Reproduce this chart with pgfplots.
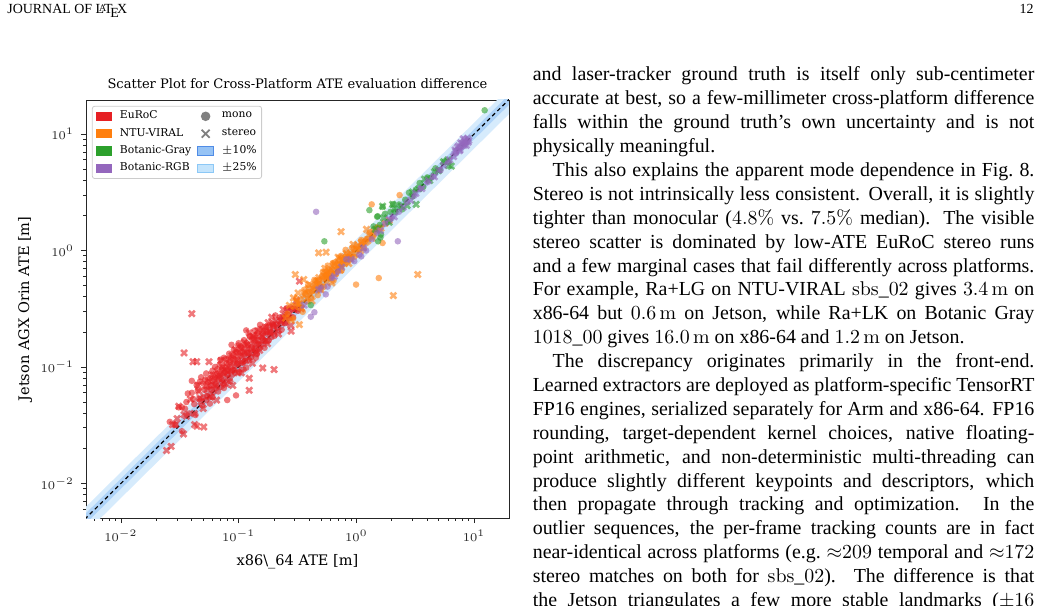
\documentclass[border=0pt]{standalone}
\usepackage[no-math]{fontspec}
\setmainfont{Liberation Serif}
\newfontfamily\figfont{DejaVu Serif}
\usepackage{pgfplots}
\usepackage{pgfplotstable}
\pgfplotsset{compat=1.18}

\definecolor{euroc}{RGB}{230,32,36}
\definecolor{ntu}{RGB}{255,127,14}
\definecolor{bgray}{RGB}{44,160,44}
\definecolor{brgb}{RGB}{148,103,189}
\definecolor{bandA}{RGB}{214,235,252}
\definecolor{bandB}{RGB}{174,211,248}
\definecolor{legA}{RGB}{196,228,252}
\definecolor{legAd}{RGB}{140,200,246}
\definecolor{legB}{RGB}{150,195,245}
\definecolor{legBd}{RGB}{80,140,230}

% ATE on x86_64 (x) and on Jetson AGX Orin (y), metres
\pgfplotstableread{
x y
0.026 0.0338
0.029 0.0319
0.031 0.0450
0.033 0.0281
0.035 0.0438
0.037 0.0592
0.038 0.0399
0.040 0.076
0.041 0.0533
0.043 0.0387
0.045 0.0630
0.046 0.0529
0.048 0.0816
0.049 0.0466
0.051 0.0638
0.052 0.0780
0.054 0.0567
0.055 0.0743
0.057 0.0485
0.058 0.0696
0.060 0.0930
0.061 0.0610
0.063 0.0819
0.064 0.0717
0.066 0.0957
0.067 0.0616
0.069 0.0842
0.070 0.1155
0.072 0.0756
0.073 0.0986
0.075 0.0660
0.076 0.0897
0.078 0.117
0.080 0.052
0.080 0.0864
0.082 0.105
0.084 0.0798
0.087 0.155
0.088 0.1012
0.090 0.126
0.092 0.0938
0.094 0.1175
0.095 0.057
0.097 0.1067
0.099 0.153
0.101 0.0909
0.104 0.1248
0.106 0.146
0.109 0.109
0.112 0.1288
0.116 0.206
0.116 0.0986
0.119 0.1547
0.122 0.1318
0.125 0.181
0.128 0.1216
0.131 0.160
0.135 0.1418
0.139 0.188
0.141 0.178
0.143 0.1287
0.147 0.169
0.152 0.213
0.156 0.156
0.161 0.193
0.166 0.146
0.171 0.222
0.177 0.191
0.183 0.229
0.190 0.1805
0.197 0.2266
0.205 0.277
0.213 0.217
0.222 0.266
0.232 0.209
0.243 0.267
0.255 0.319
0.268 0.263
0.282 0.316
0.300 0.315
0.320 0.304
0.050 0.055
0.053 0.052
0.056 0.0672
0.059 0.0637
0.062 0.0775
0.065 0.0663
0.068 0.0782
0.071 0.0675
0.074 0.0888
0.077 0.0816
0.081 0.0956
0.085 0.1105
0.089 0.0943
0.093 0.0893
0.098 0.1156
0.103 0.1071
0.108 0.135
0.113 0.113
0.118 0.1322
0.124 0.1141
0.129 0.1484
0.134 0.1769
0.138 0.138
0.145 0.1595
0.150 0.144
0.158 0.177
0.163 0.2038
0.168 0.168
0.174 0.2001
0.180 0.1692
0.187 0.1982
0.194 0.2328
0.201 0.1849
0.210 0.231
0.226 0.2373
0.236 0.2714
0.248 0.2381
0.260 0.2808
0.275 0.3245
0.290 0.2668
0.305 0.3355
0.044 0.0700
0.047 0.0750
0.050 0.0720
0.053 0.0880
0.057 0.0800
0.060 0.0760
0.063 0.1000
0.066 0.0880
0.069 0.1050
0.072 0.0950
0.075 0.1200
0.079 0.1080
0.083 0.1300
0.086 0.1200
0.091 0.1400
0.096 0.1350
0.100 0.1600
0.105 0.1500
0.111 0.1700
0.117 0.1600
0.124 0.1850
0.130 0.1750
0.137 0.2050
0.144 0.1950
0.152 0.2300
0.040 0.0600
0.036 0.0500
0.033 0.0450
0.042 0.0480
0.060 0.0550
0.085 0.0750
0.110 0.0950
0.140 0.1200
}\eurocMono

\pgfplotstableread{
x y
0.040 0.287
0.0344 0.132
0.041 0.111
0.044 0.111
0.056 0.111
0.031 0.046
0.0275 0.032
0.0290 0.032
0.034 0.0266
0.0344 0.039
0.0423 0.032
0.0442 0.0310
0.0505 0.0305
0.0244 0.0192
0.0267 0.0208
0.123 0.063
0.123 0.080
0.160 0.098
0.200 0.095
0.279 0.203
0.328 0.545
0.030 0.036
0.036 0.0378
0.039 0.0527
0.042 0.0399
0.045 0.0698
0.047 0.0541
0.050 0.044
0.053 0.0689
0.056 0.056
0.059 0.0856
0.062 0.0694
0.065 0.052
0.068 0.087
0.071 0.1136
0.074 0.074
0.077 0.094
0.079 0.0711
0.083 0.1162
0.086 0.0929
0.089 0.0694
0.091 0.1138
0.094 0.141
0.098 0.1029
0.101 0.1333
0.105 0.0893
0.108 0.1242
0.112 0.1624
0.115 0.1127
0.119 0.1428
0.123 0.197
0.127 0.1334
0.131 0.1074
0.136 0.170
0.141 0.1551
0.146 0.2044
0.151 0.1389
0.157 0.1853
0.163 0.1663
0.169 0.2197
0.176 0.1584
0.183 0.205
0.191 0.267
0.199 0.199
0.208 0.2496
0.218 0.1918
0.228 0.2462
0.239 0.311
0.251 0.2385
0.264 0.3036
0.278 0.228
0.295 0.310
0.310 0.372
0.340 0.316
0.048 0.0504
0.054 0.0637
0.058 0.0551
0.064 0.0691
0.070 0.084
0.076 0.0722
0.081 0.0907
0.087 0.087
0.093 0.107
0.099 0.0891
0.106 0.1113
0.113 0.1379
0.121 0.121
0.129 0.1445
0.138 0.1311
0.148 0.1569
0.159 0.1829
0.171 0.1676
0.185 0.1998
0.200 0.236
0.215 0.2043
0.232 0.2506
0.250 0.28
0.268 0.268
0.046 0.0620
0.055 0.0760
0.061 0.0850
0.067 0.0800
0.073 0.1000
0.079 0.0990
0.088 0.1250
0.097 0.1300
0.104 0.1450
0.117 0.1550
0.133 0.1850
0.142 0.1350
0.162 0.2100
0.178 0.2400
0.195 0.2250
}\eurocStereo

\pgfplotstableread{
x y
0.26 0.286
0.29 0.261
0.31 0.3875
0.33 0.3465
0.35 0.2975
0.37 0.4255
0.39 0.507
0.41 0.3895
0.43 0.473
0.45 0.549
0.47 0.4136
0.49 0.5145
0.51 0.602
0.53 0.4876
0.55 0.616
0.57 0.741
0.59 0.578
0.61 0.659
0.64 0.5504
0.66 0.792
0.69 0.704
0.72 0.828
0.75 0.675
0.78 0.842
0.81 1.0125
0.84 0.798
0.88 0.924
0.92 1.058
0.96 0.883
1.00 1.08
1.05 1.0185
1.10 1.232
1.16 1.044
1.22 1.2566
1.30 1.43
1.40 1.33
1.50 1.575
1.35 2.49
2.33 2.99
1.67 1.16
0.994 0.51
1.55 0.58
0.34 0.381
0.38 0.365
0.42 0.445
0.46 0.524
0.50 0.49
0.54 0.583
0.58 0.592
0.62 0.694
0.67 0.63
0.71 0.753
0.76 0.76
0.80 0.88
0.86 0.877
0.90 0.855
0.95 1.026
1.12 1.12
0.36 0.46
0.44 0.56
0.52 0.66
0.63 0.78
0.74 0.90
0.40 0.44
0.48 0.56
0.56 0.66
}\ntuMono

\pgfplotstableread{
x y
0.25 0.2625
0.27 0.3375
0.28 0.252
0.30 0.33
0.32 0.432
0.34 0.323
0.36 0.414
0.38 0.3876
0.40 0.512
0.42 0.3696
0.44 0.4928
0.46 0.46
0.48 0.5856
0.50 0.46
0.52 0.5616
0.54 0.702
0.56 0.5376
0.58 0.667
0.60 0.618
0.62 0.527
0.65 0.767
0.68 0.68
0.70 0.875
0.73 0.679
0.76 0.836
0.79 0.774
0.82 0.943
0.86 0.774
0.90 0.954
0.94 1.128
0.98 0.931
1.03 1.112
1.08 0.9936
1.14 1.186
1.20 1.176
1.28 1.357
1.36 1.278
1.48 1.51
1.62 1.555
1.90 1.805
0.742 1.45
0.478 0.955
0.553 0.967
0.303 0.622
0.357 0.563
0.292 0.392
0.328 0.231
3.32 0.622
2.06 0.41
1.22 1.52
0.33 0.3465
0.37 0.4366
0.41 0.418
0.45 0.495
0.49 0.47
0.53 0.61
0.57 0.5985
0.61 0.683
0.66 0.634
0.71 0.767
0.74 0.755
0.84 0.907
0.88 0.862
1.00 1.02
1.10 1.166
1.25 1.2125
1.40 1.456
1.55 1.55
1.75 1.715
0.39 0.47
0.47 0.55
0.55 0.64
0.64 0.74
0.72 0.86
0.31 0.36
}\ntuStereo

\pgfplotstableread{
x y
1.40 1.61
1.50 1.95
1.58 1.659
1.67 2.37
1.75 2.065
1.85 1.7575
1.95 2.145
2.05 2.501
2.15 2.15
2.30 2.484
2.45 2.254
2.60 2.73
2.80 3.136
3.00 2.91
3.20 3.328
3.45 3.795
3.70 3.515
4.00 4.24
4.30 4.214
4.70 5.076
5.10 4.896
5.60 5.824
12.3 16.0
0.535 1.20
1.29 2.22
0.41 0.34
1.52 1.97
1.62 1.37
1.60 1.29
1.53 1.20
}\grayMono

\pgfplotstableread{
x y
1.45 1.52
1.70 1.904
1.90 1.748
2.10 2.268
2.40 2.40
2.70 2.43
3.00 3.18
3.22 2.49
3.40 3.40
3.80 4.10
4.20 3.99
4.60 4.74
5.00 4.85
5.50 5.775
6.09 5.38
6.40 5.30
6.00 6.00
2.03 2.49
1.67 2.40
}\grayStereo

\pgfplotstableread{
x y
0.455 2.15
2.25 1.20
0.41 0.27
0.44 0.295
0.55 0.42
0.57 0.49
0.50 0.48
0.62 0.58
0.70 0.66
0.82 0.84
0.96 0.81
1.10 0.89
1.06 0.92
1.21 1.00
1.35 1.25
1.50 1.42
1.75 1.70
2.00 1.90
2.30 2.15
2.70 2.60
3.10 2.95
3.50 3.40
4.00 3.85
4.50 4.30
5.20 4.90
6.00 5.70
7.00 6.80
7.80 7.60
8.50 8.20
}\rgbMono

\pgfplotstableread{
x y
0.36 0.34
0.48 0.46
0.65 0.60
0.75 0.72
0.90 0.84
1.15 1.05
1.60 1.48
1.90 1.85
2.10 1.95
2.50 2.35
2.90 2.70
3.20 3.10
3.60 3.40
4.10 4.00
4.60 4.30
5.00 4.90
5.50 5.40
6.20 6.00
7.00 7.10
7.50 7.20
7.90 8.30
8.30 8.60
8.60 8.00
9.00 8.80
7.20 7.70
8.10 9.10
6.70 6.40
7.40 7.90
8.20 8.00
8.80 9.20
7.60 7.30
8.40 8.90
6.90 7.30
7.70 8.40
8.90 8.50
}\rgbStereo

\newcommand\jline[1]{\hbox to \linewidth{#1}}
\newcommand\lline[1]{\hbox to \linewidth{#1\hfil}}

\pgfplotsset{
  monomark/.style={only marks, mark=*, mark size=1.65pt, color=#1,
    mark options={draw opacity=0, fill=#1, fill opacity=0.6}, forget plot},
  stereomark/.style={only marks, mark=x, mark size=2.1pt, color=#1,
    mark options={line width=1.3pt, draw opacity=0.6}, forget plot},
}

\begin{document}
\begin{tikzpicture}
\begin{scope}[x=0.5024pt, y=-0.5024pt]
  \useasboundingbox (0,0) rectangle (1042,606);
  \node[anchor=base west, inner sep=0] at (7,14) {\fontsize{7}{8}\selectfont JOURNAL OF \LaTeX};
  \node[anchor=base east, inner sep=0] at (1034,14) {\fontsize{7}{8}\selectfont 12};
  \node[anchor=base west, inner sep=0] at (532.4,81) {\parbox[t]{252pt}{\fontsize{10}{12}\selectfont
    \jline{and laser-tracker ground truth is itself only sub-centimeter}
    \jline{accurate at best, so a few-millimeter cross-platform difference}
    \jline{falls within the ground truth's own uncertainty and is not}
    \lline{physically meaningful.}
    \jline{\hspace*{1em}This also explains the apparent mode dependence in Fig.\ 8.}
    \jline{Stereo is not intrinsically less consistent. Overall, it is slightly}
    \jline{tighter than monocular ($4.8\%$ vs.\ $7.5\%$ median). The visible}
    \jline{stereo scatter is dominated by low-ATE EuRoC stereo runs}
    \jline{and a few marginal cases that fail differently across platforms.}
    \jline{For example, Ra+LG on NTU-VIRAL $\mathrm{sbs\_02}$ gives $3.4\,\mathrm{m}$ on}
    \jline{x86-64 but $0.6\,\mathrm{m}$ on Jetson, while Ra+LK on Botanic Gray}
    \lline{$\mathrm{1018\_00}$ gives $16.0\,\mathrm{m}$ on x86-64 and $1.2\,\mathrm{m}$ on Jetson.}
    \jline{\hspace*{1em}The discrepancy originates primarily in the front-end.}
    \jline{Learned extractors are deployed as platform-specific TensorRT}
    \jline{FP16 engines, serialized separately for Arm and x86-64. FP16}
    \jline{rounding, target-dependent kernel choices, native floating-}
    \jline{point arithmetic, and non-deterministic multi-threading can}
    \jline{produce slightly different keypoints and descriptors, which}
    \jline{then propagate through tracking and optimization. In the}
    \jline{outlier sequences, the per-frame tracking counts are in fact}
    \jline{near-identical across platforms (e.g.\ ${\approx}209$ temporal and ${\approx}172$}
    \jline{stereo matches on both for $\mathrm{sbs\_02}$). The difference is that}
    \jline{the Jetson triangulates a few more stable landmarks (${\pm}16$}
  }};
\end{scope}

\begin{axis}[
  at={(43.21pt,-260.24pt)}, anchor=south west,
  width=212.5pt, height=210pt, scale only axis,
  xmode=log, ymode=log,
  xmin=0.00505, xmax=19.8, ymin=0.00505, ymax=19.6,
  axis line style={line width=0.5pt, black!85},
  tick align=outside, xtick pos=bottom, ytick pos=left,
  major tick length=2.6pt, minor tick length=1.5pt,
  every tick/.style={black!85, line width=0.4pt},
  xtick={0.01,0.1,1,10}, ytick={0.01,0.1,1,10},
  minor xtick={0.006,0.007,0.008,0.009,0.02,0.03,0.04,0.05,0.06,0.07,0.08,0.09,0.2,0.3,0.4,0.5,0.6,0.7,0.8,0.9,2,3,4,5,6,7,8,9},
  minor ytick={0.006,0.007,0.008,0.009,0.02,0.03,0.04,0.05,0.06,0.07,0.08,0.09,0.2,0.3,0.4,0.5,0.6,0.7,0.8,0.9,2,3,4,5,6,7,8,9},
  ticklabel style={font=\fontsize{6}{7}\selectfont, black!85},
  title={Scatter Plot for Cross-Platform ATE evaluation difference},
  every axis title shift=0pt,
  title style={at={(axis description cs:0.5,1.038)}, anchor=center, yshift=0pt, inner sep=0, font=\figfont\fontsize{6.55}{7}\selectfont},
  xlabel={x86\textbackslash\_64 ATE [m]},
  xlabel style={at={(axis description cs:0.5,-0.1045)}, anchor=center, yshift=0pt, inner sep=0, font=\figfont\fontsize{7.3}{8}\selectfont},
  ylabel={Jetson AGX Orin ATE [m]},
  ylabel style={at={(axis description cs:-0.1442,0.5)}, anchor=center, xshift=0pt, yshift=0pt, inner sep=0, font=\figfont\fontsize{7.3}{8}\selectfont},
  legend columns=2, legend cell align=left,
  legend style={at={(axis description cs:0.014,0.986)}, anchor=north west,
    draw=black!20, rounded corners=1.2pt, fill=white,
    font=\figfont\fontsize{5.4}{6}\selectfont, inner xsep=1.6pt, inner ysep=1.4pt,
    row sep=1.45pt, nodes={inner sep=0.9pt},
    /tikz/every odd column/.append style={column sep=3.2pt},
    /tikz/every even column/.append style={column sep=2.2pt}},
]
% tolerance bands around the identity line
\addplot[fill=bandA, draw=none, forget plot] coordinates {(0.001,0.00075) (100,75) (100,125) (0.001,0.00125)} --cycle;
\addplot[fill=bandB, draw=none, forget plot] coordinates {(0.001,0.0009) (100,90) (100,110) (0.001,0.0011)} --cycle;

% mono = circles, stereo = crosses
\addplot[monomark=euroc] table {\eurocMono};
\addplot[stereomark=euroc] table {\eurocStereo};
\addplot[monomark=ntu] table {\ntuMono};
\addplot[stereomark=ntu] table {\ntuStereo};
\addplot[monomark=bgray] table {\grayMono};
\addplot[stereomark=bgray] table {\grayStereo};
\addplot[monomark=brgb] table {\rgbMono};
\addplot[stereomark=brgb] table {\rgbStereo};

% identity line
\addplot[black, line width=0.6pt, dash pattern=on 2pt off 1.6pt, forget plot] coordinates {(0.001,0.001) (100,100)};

% legend: datasets in the first column, modes and bands in the second
\addlegendimage{legend image code/.code={\fill[euroc, sharp corners] (0pt,-2.1pt) rectangle (7.8pt,2.1pt);}}
\addlegendentry{EuRoC}
\addlegendimage{legend image code/.code={\path[draw=none, fill=none] (0pt,-2.1pt) rectangle (7.8pt,2.1pt); \path[draw=none, fill=black!50] (3.9pt,0pt) circle (2.4pt);}}
\addlegendentry{mono}
\addlegendimage{legend image code/.code={\fill[ntu, sharp corners] (0pt,-2.1pt) rectangle (7.8pt,2.1pt);}}
\addlegendentry{NTU-VIRAL}
\addlegendimage{legend image code/.code={\path[draw=none, fill=none] (0pt,-2.1pt) rectangle (7.8pt,2.1pt); \path[draw=black!50, fill=none, line width=0.9pt, sharp corners] (1.9pt,-2pt) -- (5.9pt,2pt) (1.9pt,2pt) -- (5.9pt,-2pt);}}
\addlegendentry{stereo}
\addlegendimage{legend image code/.code={\fill[bgray, sharp corners] (0pt,-2.1pt) rectangle (7.8pt,2.1pt);}}
\addlegendentry{Botanic-Gray}
\addlegendimage{legend image code/.code={\path[fill=legB, draw=legBd, line width=0.4pt, sharp corners] (0pt,-2.1pt) rectangle (7.8pt,2.1pt);}}
\addlegendentry{$\pm$10\%}
\addlegendimage{legend image code/.code={\fill[brgb, sharp corners] (0pt,-2.1pt) rectangle (7.8pt,2.1pt);}}
\addlegendentry{Botanic-RGB}
\addlegendimage{legend image code/.code={\path[fill=legA, draw=legAd, line width=0.4pt, sharp corners] (0pt,-2.1pt) rectangle (7.8pt,2.1pt);}}
\addlegendentry{$\pm$25\%}
\end{axis}
\end{tikzpicture}
\end{document}
